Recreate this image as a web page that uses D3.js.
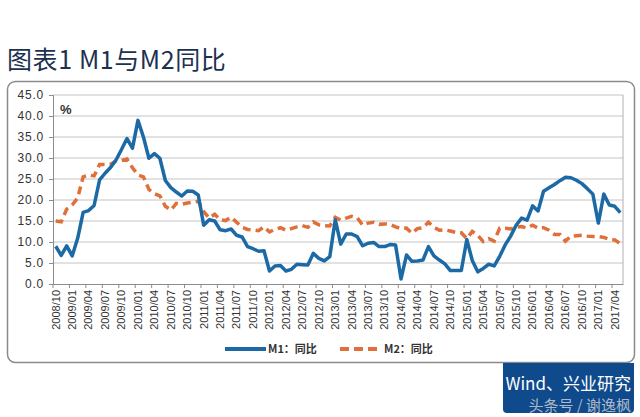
<!DOCTYPE html>
<html>
<head>
<meta charset="utf-8">
<script src="https://cdn.jsdelivr.net/npm/d3@7"></script>
<style>
  body { margin: 0; background: #fff; }
  svg { display: block; }
</style>
</head>
<body>
<svg id="chart" width="640" height="417"></svg>
<script>
// M1 / M2 year-on-year growth (%), monthly from 2008/10 to 2017/05
var m1 = [
  8.99, 6.8, 9.06, 6.68, 10.88, 17.04, 17.48, 18.69, 24.79, 26.37, 27.72, 29.51,
  32.03, 34.63, 32.35, 38.96, 34.99, 29.94, 31.05, 29.93, 24.64, 22.94, 21.9, 20.94,
  22.14, 22.09, 21.19, 14.0, 15.3, 15.0, 12.9, 12.7, 13.1, 11.6, 11.2, 8.9,
  8.4, 7.8, 7.9, 3.1, 4.3, 4.4, 3.1, 3.5, 4.7, 4.6, 4.5, 7.3,
  6.1, 5.5, 6.5, 15.3, 9.5, 11.9, 11.9, 11.3, 9.1, 9.7, 9.9, 8.9,
  8.9, 9.4, 9.3, 1.2, 6.9, 5.4, 5.5, 5.7, 8.9, 6.7, 5.7, 4.8,
  3.2, 3.2, 3.2, 10.6, 5.6, 2.9, 3.7, 4.7, 4.3, 6.6, 9.3, 11.4,
  14.0, 15.7, 15.2, 18.6, 17.4, 22.1, 22.9, 23.7, 24.6, 25.4, 25.3, 24.7,
  23.9, 22.7, 21.4, 14.5, 21.4, 18.8, 18.5, 17.0
];
var m2 = [
  15.02, 14.8, 17.82, 18.79, 20.48, 25.51, 25.95, 25.74, 28.46, 28.42, 28.53, 29.31,
  29.42, 29.74, 27.68, 25.98, 25.52, 22.5, 21.48, 21.0, 18.5, 17.6, 19.2, 19.0,
  19.3, 19.5, 19.7, 17.2, 15.7, 16.6, 15.3, 15.1, 15.9, 14.7, 13.5, 13.0,
  12.9, 12.7, 13.6, 12.4, 13.0, 13.4, 12.8, 13.2, 13.6, 13.9, 13.5, 14.8,
  14.1, 13.9, 13.8, 15.9, 15.2, 15.7, 16.1, 15.8, 14.0, 14.5, 14.7, 14.2,
  14.3, 14.2, 13.6, 13.2, 13.3, 12.1, 13.2, 13.4, 14.7, 13.5, 12.8, 12.9,
  12.6, 12.3, 12.2, 10.8, 12.5, 11.6, 10.1, 10.8, 10.2, 13.3, 13.3, 13.1,
  13.5, 13.7, 13.3, 14.0, 13.3, 13.4, 12.8, 11.8, 11.8, 10.2, 11.4, 11.5,
  11.6, 11.4, 11.3, 11.3, 11.1, 10.6, 10.5, 9.6
];
var yTicks = [0, 5, 10, 15, 20, 25, 30, 35, 40, 45];
var seriesNames = ["M1：同比", "M2：同比"];

// month categories
var months = [];
for (var i = 0; i < m1.length; i++) {
  var mm = 9 + i; // 2008/10 -> index 0
  var yy = 2008 + Math.floor(mm / 12);
  months.push(yy + "/" + d3.format("02d")(mm % 12 + 1));
}

var svg = d3.select("#chart");
var cjk = "'Noto Sans CJK SC', 'Noto Sans', sans-serif";
var lat = "'Liberation Sans', Arial, sans-serif";

// title
svg.append("text")
  .attr("x", 7).attr("y", 69)
  .attr("font-family", cjk)
  .attr("font-size", 25)
  .attr("letter-spacing", 0.6)
  .attr("fill", "#1c3150")
  .text("图表1  M1与M2同比");

// outer frame
svg.append("rect")
  .attr("x", 7.5).attr("y", 81.5)
  .attr("width", 627).attr("height", 281)
  .attr("rx", 8)
  .attr("fill", "#fff")
  .attr("stroke", "#8a8a8a")
  .attr("stroke-width", 1.5);

var pLeft = 53, pRight = 623, pTop = 95, pBottom = 284;

var x = d3.scaleBand().domain(months).range([pLeft, pRight]);
var y = d3.scaleLinear().domain([0, 45]).range([pBottom, pTop]);

// gridlines
svg.append("g").selectAll("line")
  .data(yTicks.slice(1))
  .enter().append("line")
  .attr("x1", pLeft).attr("x2", pRight)
  .attr("y1", function(d) { return y(d); })
  .attr("y2", function(d) { return y(d); })
  .attr("stroke", "#c4c4c4")
  .attr("stroke-width", 1);

// plot area right border
svg.append("line")
  .attr("x1", pRight).attr("x2", pRight)
  .attr("y1", pTop).attr("y2", pBottom)
  .attr("stroke", "#b0b0b0");

// y axis
var yAxis = d3.axisLeft(y)
  .tickValues(yTicks)
  .tickSize(4)
  .tickPadding(5)
  .tickFormat(d3.format(".1f"));
var gy = svg.append("g")
  .attr("transform", "translate(" + pLeft + ",0)")
  .call(yAxis);
gy.select(".domain").attr("stroke", "#8c8c8c");
gy.selectAll(".tick line").attr("stroke", "#8c8c8c");
gy.selectAll("text")
  .attr("font-family", lat)
  .attr("font-size", 12)
  .attr("letter-spacing", 0.8)
  .attr("fill", "#333");

// x axis
var tickMonths = months.filter(function(d, i) { return i % 3 === 0; });
var xAxis = d3.axisBottom(x)
  .tickValues(tickMonths)
  .tickSize(0)
  .tickPadding(0);
var gx = svg.append("g")
  .attr("transform", "translate(0," + pBottom + ")")
  .call(xAxis);
gx.select(".domain").attr("stroke", "#8c8c8c");
gx.selectAll("text")
  .attr("font-family", lat)
  .attr("font-size", 11)
  .attr("fill", "#333")
  .attr("text-anchor", "end")
  .attr("transform", "rotate(-90)")
  .attr("x", -6)
  .attr("y", 0)
  .attr("dy", "0.35em");

// x tick marks at category boundaries
svg.append("g").selectAll("line")
  .data(tickMonths)
  .enter().append("line")
  .attr("x1", function(d) { return x(d); })
  .attr("x2", function(d) { return x(d); })
  .attr("y1", pBottom).attr("y2", pBottom + 4)
  .attr("stroke", "#8c8c8c");

// % label
svg.append("text")
  .attr("x", 60).attr("y", 114)
  .attr("font-family", lat)
  .attr("font-size", 13)
  .attr("font-weight", "bold")
  .attr("fill", "#333")
  .text("%");

var line = d3.line()
  .x(function(d, i) { return x(months[i]) + x.bandwidth() / 2; })
  .y(function(d) { return y(d); });

var colors = ["#1c6aa5", "#e0703a"];

svg.append("path")
  .datum(m2)
  .attr("d", line)
  .attr("fill", "none")
  .attr("stroke", colors[1])
  .attr("stroke-width", 3.5)
  .attr("stroke-dasharray", "8,5");

svg.append("path")
  .datum(m1)
  .attr("d", line)
  .attr("fill", "none")
  .attr("stroke", colors[0])
  .attr("stroke-width", 3.5)
  .attr("stroke-linejoin", "round");

// legend
var legend = svg.append("g");
legend.append("line")
  .attr("x1", 225).attr("x2", 266)
  .attr("y1", 349).attr("y2", 349)
  .attr("stroke", colors[0]).attr("stroke-width", 4);
legend.append("text")
  .attr("x", 268).attr("y", 353)
  .attr("font-family", cjk)
  .attr("font-size", 11)
  .attr("font-weight", "bold")
  .attr("fill", "#333")
  .text(seriesNames[0]);
legend.append("line")
  .attr("x1", 340).attr("x2", 377)
  .attr("y1", 349).attr("y2", 349)
  .attr("stroke", colors[1]).attr("stroke-width", 4)
  .attr("stroke-dasharray", "9,5");
legend.append("text")
  .attr("x", 384).attr("y", 353)
  .attr("font-family", cjk)
  .attr("font-size", 11)
  .attr("font-weight", "bold")
  .attr("fill", "#333")
  .text(seriesNames[1]);

// source box
svg.append("rect")
  .attr("x", 503).attr("y", 363)
  .attr("width", 131).attr("height", 50)
  .attr("rx", 4)
  .attr("fill", "#0e4a8c");
svg.append("rect")
  .attr("x", 503).attr("y", 363)
  .attr("width", 131).attr("height", 10)
  .attr("fill", "#0e4a8c");
svg.append("text")
  .attr("x", 631).attr("y", 390)
  .attr("text-anchor", "end")
  .attr("font-family", cjk)
  .attr("font-size", 17)
  .attr("fill", "#fff")
  .text("Wind、兴业研究");
svg.append("text")
  .attr("x", 631).attr("y", 411)
  .attr("text-anchor", "end")
  .attr("font-family", cjk)
  .attr("font-size", 15)
  .attr("fill", "#d8d8d8")
  .attr("fill-opacity", 0.8)
  .text("头条号 / 谢逸枫");
</script>
</body>
</html>
